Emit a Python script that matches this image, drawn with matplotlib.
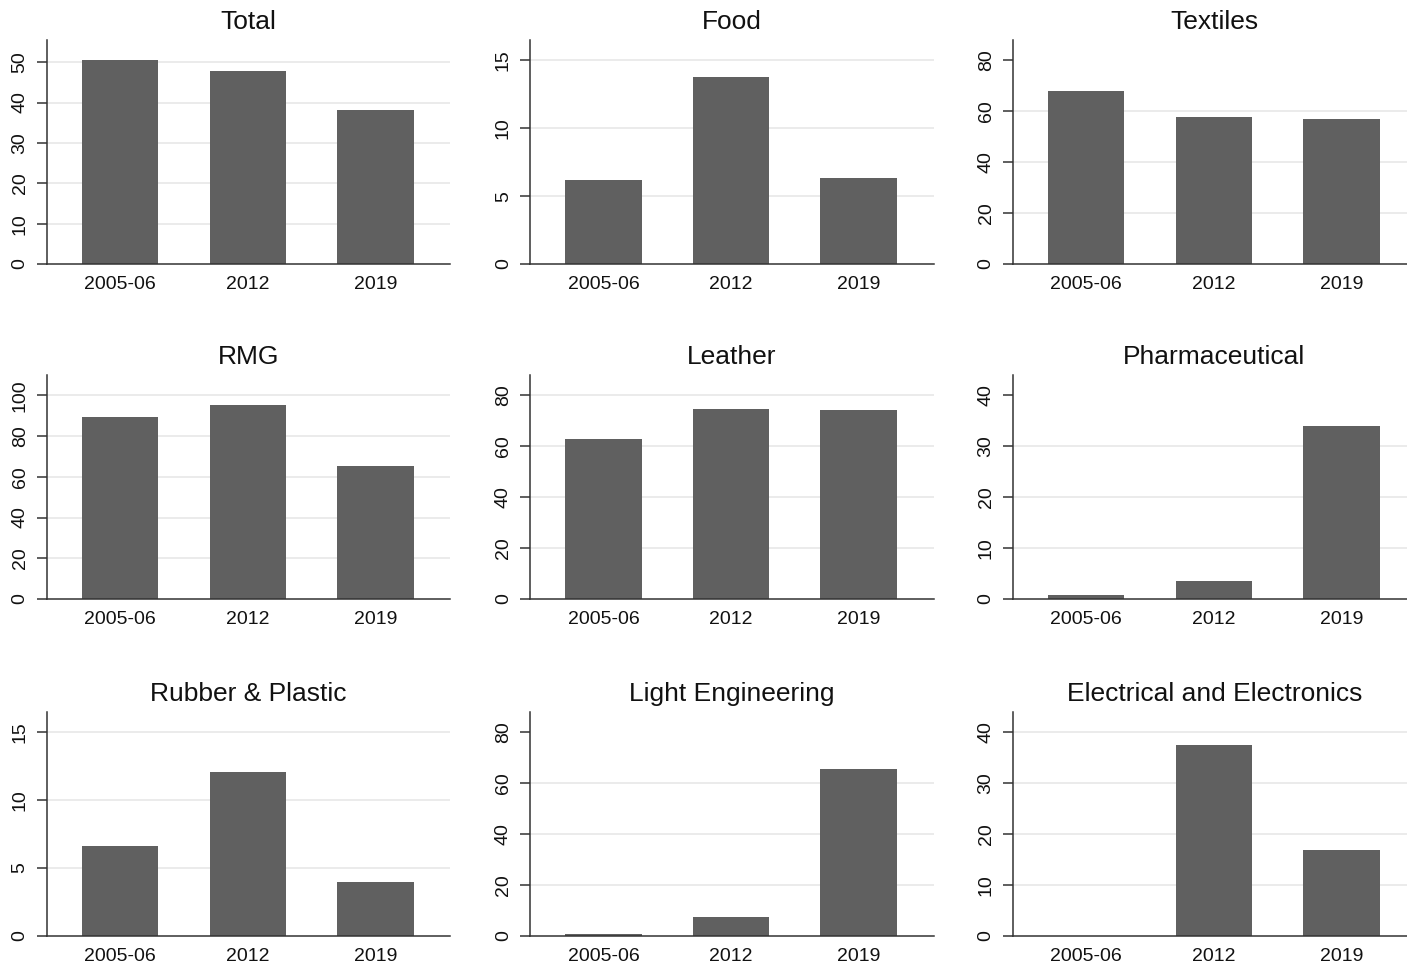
import numpy as np
import matplotlib
matplotlib.use("Agg")
import matplotlib.pyplot as plt

plt.rcParams['font.family'] = ['Liberation Sans', 'DejaVu Sans']

years = ['2005-06', '2012', '2019']

total = [50.5, 47.9, 38.2]
food = [6.2, 13.8, 6.3]
textiles = [67.9, 57.6, 56.8]
rmg = [89.2, 95.1, 65.1]
leather = [62.7, 74.5, 74.1]
pharma = [0.7, 3.45, 34.0]
rubber = [6.64, 12.03, 3.92]
light_eng = [0.5, 7.3, 65.3]
electrical = [0.0, 37.5, 16.9]

titles = ['Total', 'Food', 'Textiles',
          'RMG', 'Leather', 'Pharmaceutical',
          'Rubber & Plastic', 'Light Engineering', 'Electrical and Electronics']
series = [total, food, textiles, rmg, leather, pharma, rubber, light_eng, electrical]

# y ticks, gridlines and upper limit for each panel
yticks = [np.arange(0, 51, 10), np.arange(0, 16, 5), np.arange(0, 81, 20),
          np.arange(0, 101, 20), np.arange(0, 81, 20), np.arange(0, 41, 10),
          np.arange(0, 16, 5), np.arange(0, 81, 20), np.arange(0, 41, 10)]
grids = [[10, 20, 30, 40, 50], [5, 10, 15], [20, 40, 60],
         [20, 40, 60, 80, 100], [20, 40, 60, 80], [10, 20, 30],
         [5, 10, 15], [20, 40, 60], [10, 20, 30, 40]]
ytops = [55.5, 16.5, 88, 110, 88, 44, 16.5, 88, 44]

W, H = 1407, 967
fig = plt.figure(figsize=(W / 100, H / 100), dpi=100)
fig.patch.set_facecolor('white')

col_left = [46.7, 530, 1012.7]
row_top = [40, 375, 711.7]
aw, ah = 403.5, 224

bar_color = '#606060'
axis_color = '#333333'

for i in range(9):
    r, c = divmod(i, 3)
    ax = fig.add_axes([col_left[c] / W, 1 - (row_top[r] + ah) / H, aw / W, ah / H])
    x = np.arange(len(years))
    for g in grids[i]:
        ax.axhline(g, color='#e8e8e8', lw=1.2, zorder=0)
    ax.bar(x, series[i], width=0.6, color=bar_color, zorder=2)
    ax.set_xlim(-0.575, 2.585)
    ax.set_ylim(0, ytops[i])
    ax.set_xticks(x)
    ax.set_xticklabels(years)
    ax.set_yticks(yticks[i])
    ax.set_yticklabels([str(v) for v in yticks[i]], rotation=90, va='center')
    ax.tick_params(axis='x', length=0, pad=9, labelsize=14, labelcolor='#111111')
    ax.tick_params(axis='y', length=7, width=1.1, color=axis_color, pad=6,
                   labelsize=14, labelcolor='#111111')
    for side in ['top', 'right']:
        ax.spines[side].set_visible(False)
    for side in ['left', 'bottom']:
        ax.spines[side].set_color(axis_color)
        ax.spines[side].set_linewidth(1.1)
    ax.set_title(titles[i], fontsize=19, pad=8, color='#111111')

fig.savefig('out.png', dpi=100)
